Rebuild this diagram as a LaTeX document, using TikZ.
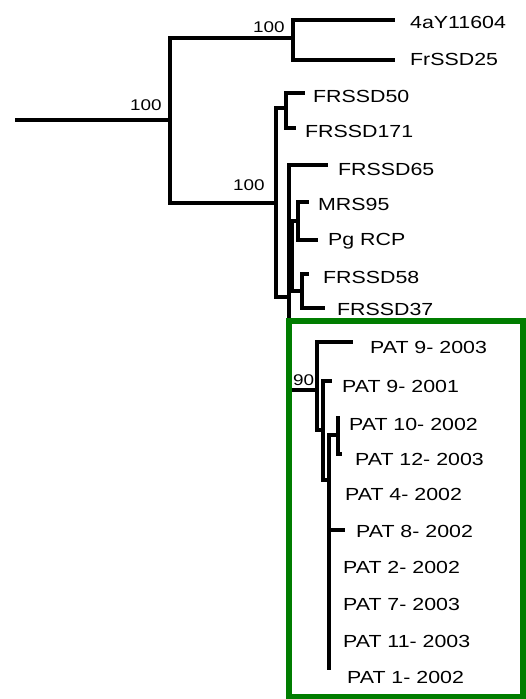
\documentclass[tikz,border=0pt]{standalone}
\usepackage{fontspec}
\setmainfont[FakeStretch=1.22]{Liberation Sans}
\usepackage{xcolor}
\usepackage{tikz}
\definecolor{boxgreen}{RGB}{0,125,0}

\begin{document}
\begin{tikzpicture}[
  x=1pt, y=-1pt,
  font=\fontsize{17.5}{20}\selectfont,
  branch/.style={line width=3.3pt},
  taxon/.style={anchor=base west, inner sep=0pt},
  support/.style={anchor=base west, inner sep=0pt, font=\fontsize{15.5}{18}\selectfont},
  clade/.style={draw=boxgreen, line width=5.5pt}
]
\useasboundingbox (0,0) rectangle (526,699);
\coordinate (root) at (15,120);
\coordinate (n1) at (170,120);
\coordinate (nTop) at (293,38);
\coordinate (t4a) at (395,20);
\coordinate (tFr25) at (395,60);
\coordinate (nLow) at (276,203);
\coordinate (n50) at (286,108);
\coordinate (t50) at (305,93);
\coordinate (t171) at (296,128);
\coordinate (nFr) at (289,297);
\coordinate (t65) at (328,165);
\coordinate (nIn) at (292,256);
\coordinate (nMRS) at (298,221);
\coordinate (tMRS) at (309,202);
\coordinate (tPg) at (318,240);
\coordinate (n58) at (302,291);
\coordinate (t58) at (309,274);
\coordinate (t37) at (325,308);
\coordinate (nPat) at (317,390);
\coordinate (t9a) at (353,342);
\coordinate (nB) at (323,430);
\coordinate (t9b) at (332,381);
\coordinate (nC) at (329,480);
\coordinate (nD) at (338,435);
\coordinate (t10) at (338,416);
\coordinate (t12) at (342,454);
\coordinate (t8) at (345,530);
\coordinate (t1) at (329,670);

\draw[branch] (root) -- (n1);
\draw[branch] (n1) |- (nTop);
\draw[branch] (nTop) |- (t4a);
\draw[branch] (nTop) |- (tFr25);
\draw[branch] (n1) |- (nLow);
\draw[branch] (nLow) |- (n50);
\draw[branch] (n50) |- (t50);
\draw[branch] (n50) |- (t171);
\draw[branch] (nLow) |- (nFr);
\draw[branch] (nFr) |- (t65);
\draw[branch] (nFr) |- (nIn);
\draw[branch] (nIn) |- (nMRS);
\draw[branch] (nMRS) |- (tMRS);
\draw[branch] (nMRS) |- (tPg);
\draw[branch] (nIn) |- (n58);
\draw[branch] (n58) |- (t58);
\draw[branch] (n58) |- (t37);
\draw[branch] (nFr) |- (nPat);
\draw[branch] (nPat) |- (t9a);
\draw[branch] (nPat) |- (nB);
\draw[branch] (nB) |- (t9b);
\draw[branch] (nB) |- (nC);
\draw[branch] (nC) |- (nD);
\draw[branch] (nD) |- (t10);
\draw[branch] (nD) |- (t12);
\draw[branch] (nC) |- (t8);
\draw[branch] (nC) |- (t1);

\node[taxon] (l4a) at (410,28) {4aY11604};
\node[taxon] (lFr25) at (410,65) {FrSSD25};
\node[taxon] (l50) at (313,102) {FRSSD50};
\node[taxon] (l171) at (305,137) {FRSSD171};
\node[taxon] (l65) at (338,175) {FRSSD65};
\node[taxon] (lMRS) at (318,210) {MRS95};
\node[taxon] (lPg) at (328,245) {Pg RCP};
\node[taxon] (l58) at (323,283) {FRSSD58};
\node[taxon] (l37) at (337,315) {FRSSD37};
\node[taxon] (lP9a) at (370,353) {PAT 9- 2003};
\node[taxon] (lP9b) at (342,392) {PAT 9- 2001};
\node[taxon] (lP10) at (349,430) {PAT 10- 2002};
\node[taxon] (lP12) at (355,465) {PAT 12- 2003};
\node[taxon] (lP4) at (345,500) {PAT 4- 2002};
\node[taxon] (lP8) at (356,537) {PAT 8- 2002};
\node[taxon] (lP2) at (343,573) {PAT 2- 2002};
\node[taxon] (lP7) at (343,610) {PAT 7- 2003};
\node[taxon] (lP11) at (343,647) {PAT 11- 2003};
\node[taxon] (lP1) at (347,683) {PAT 1- 2002};

\node[support] (s1) at (130,110) {100};
\node[support] (s2) at (253,32) {100};
\node[support] (s3) at (233,190) {100};
\node[support] (s4) at (293,385) {90};

\draw[clade] (289,321) rectangle (523,697);
\end{tikzpicture}
\end{document}
